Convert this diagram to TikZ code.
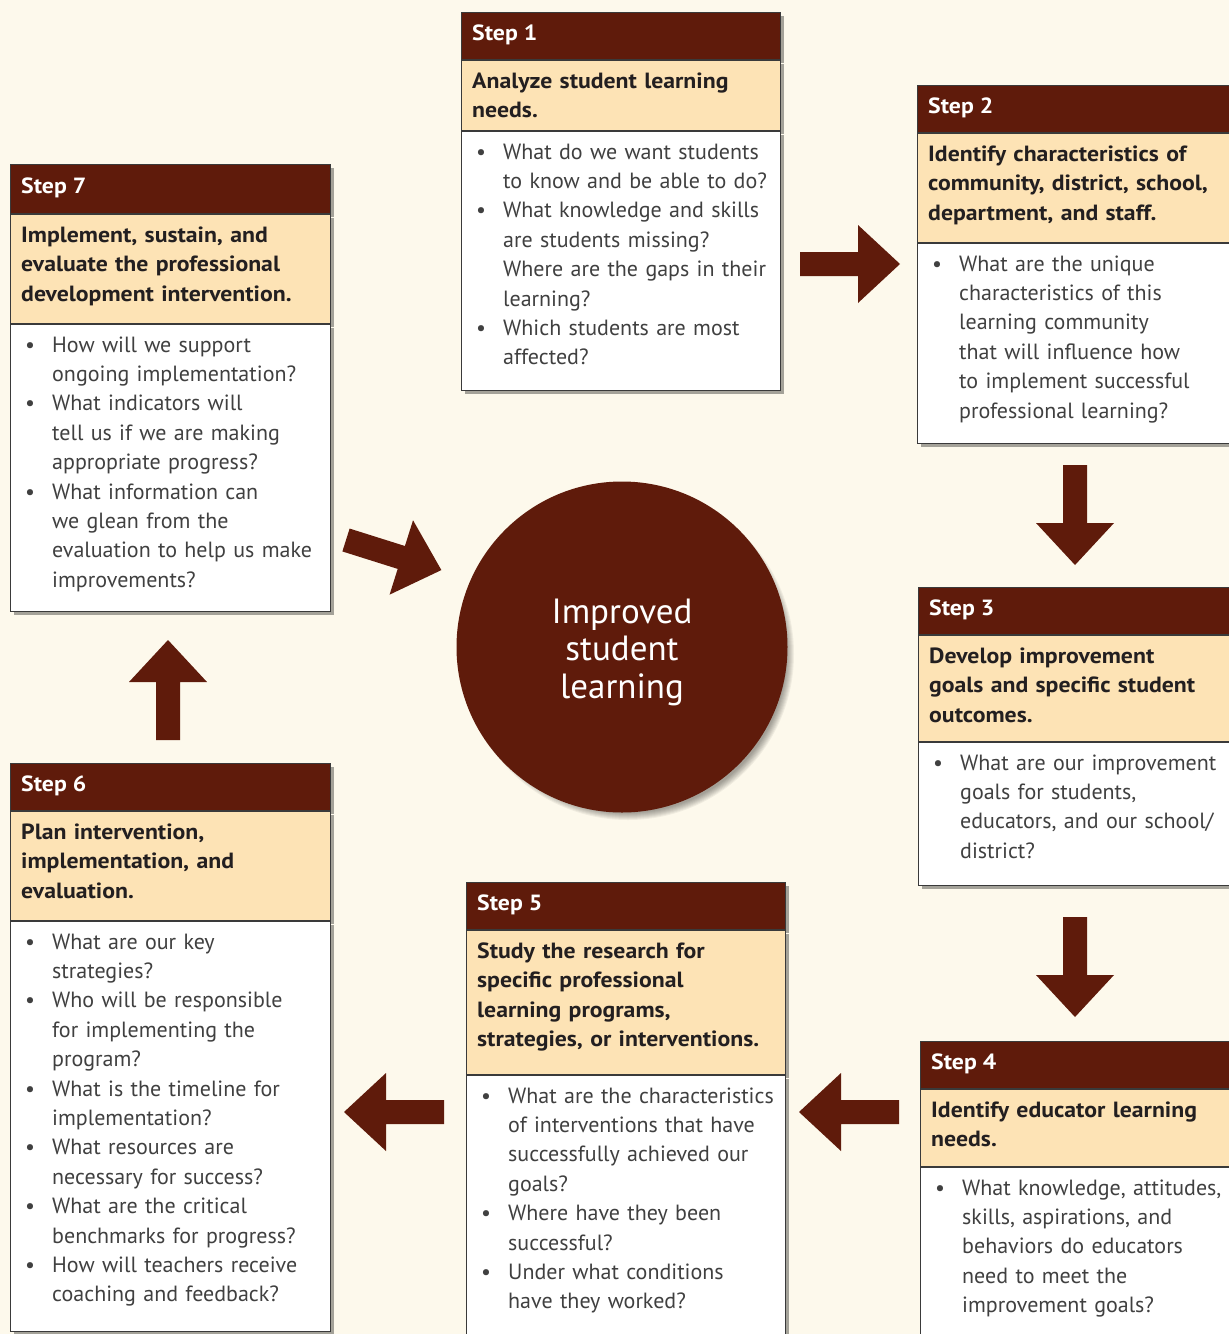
\documentclass[tikz,border=0pt]{standalone}
\usepackage{fontspec}
\setmainfont{PT Sans}[BoldFeatures={FakeStretch=1.08}]
\usetikzlibrary{calc,shadows}

\definecolor{paper}{HTML}{FDF9EC}
\definecolor{stepbrown}{HTML}{5F1B0B}
\definecolor{tanband}{HTML}{FDE3B5}
\definecolor{frame}{HTML}{3A3A3A}
\definecolor{ink}{HTML}{231F20}
\definecolor{greyink}{HTML}{404040}

\newcommand{\bul}{\makebox[27pt][l]{\textbullet}}	%bullet plus hanging indent
\newcommand{\cnt}{\hspace*{27pt}}					%continuation line of an item

\tikzset{
	band/.style={draw=frame, line width=1pt, anchor=north west, inner sep=0pt,
		drop shadow={shadow xshift=3pt, shadow yshift=-3pt, opacity=.35, fill=black}},
	hdrband/.style={band, fill=stepbrown, minimum height=47pt},
	titleband/.style={band, fill=tanband},
	bodyband/.style={band, fill=white},
	hdrtext/.style={anchor=base west, inner sep=0pt, text=white, font=\bfseries\fontsize{22}{29.5}\selectfont},
	titletext/.style={anchor=base west, inner sep=0pt, text=ink, text width=330pt, align=left,
		font=\bfseries\fontsize{22}{29.5}\selectfont},
	bodytext/.style={anchor=base west, inner sep=0pt, text=greyink, text width=330pt, align=left,
		font=\fontsize{22}{29.4}\selectfont},
	hub/.style={circle, fill=stepbrown, minimum size=331pt, inner sep=0pt},
	hubtext/.style={anchor=base, inner sep=0pt, text=white, text width=220pt, align=center,
		font=\fontsize{35}{37.5}\selectfont},
	fatarrow/.pic={\fill[stepbrown] (0,-12) -- (58,-12) -- (58,-39) -- (100,0) -- (58,39) -- (58,12) -- (0,12) -- cycle;}
}

\begin{document}
\begin{tikzpicture}[x=1pt,y=-1pt]
	\useasboundingbox (0,0) rectangle (1229,1334);
	\clip (0,0) rectangle (1229,1334);
	\fill[paper] (0,0) rectangle (1229,1334);		%page colour

	%----- Step 1 -----
	\node[hdrband, minimum width=319pt] (s1h) at (461,12) {};
	\node[titleband, minimum width=319pt, minimum height=70pt] (s1t) at (s1h.south west) {};
	\node[bodyband, minimum width=319pt, minimum height=259pt] (s1b) at (s1t.south west) {};
	\node[hdrtext] (s1hx) at ($(s1h.north west)+(11,28)$) {Step 1};
	\node[titletext] (s1tx) at ($(s1t.north west)+(11,28)$) {Analyze student learning\\needs.};
	\node[bodytext] (s1bx) at ($(s1b.north west)+(15,28)$) {%
		\bul What do we want students\\ \cnt to know and be able to do?\\
		\bul What knowledge and skills\\ \cnt are students missing?\\ \cnt Where are the gaps in their\\ \cnt learning?\\
		\bul Which students are most\\ \cnt affected?};

	%----- Step 2 -----
	\node[hdrband, minimum width=330pt] (s2h) at (917,85) {};
	\node[titleband, minimum width=330pt, minimum height=109pt] (s2t) at (s2h.south west) {};
	\node[bodyband, minimum width=330pt, minimum height=200pt] (s2b) at (s2t.south west) {};
	\node[hdrtext] (s2hx) at ($(s2h.north west)+(11,28)$) {Step 2};
	\node[titletext] (s2tx) at ($(s2t.north west)+(11,28)$) {Identify characteristics of\\community, district, school,\\department, and staff.};
	\node[bodytext] (s2bx) at ($(s2b.north west)+(15,28)$) {%
		\bul What are the unique\\ \cnt characteristics of this\\ \cnt learning community\\ \cnt that will influence how\\ \cnt to implement successful\\ \cnt professional learning?};

	%----- Step 3 -----
	\node[hdrband, minimum width=330pt] (s3h) at (918,587) {};
	\node[titleband, minimum width=330pt, minimum height=106pt] (s3t) at (s3h.south west) {};
	\node[bodyband, minimum width=330pt, minimum height=143pt] (s3b) at (s3t.south west) {};
	\node[hdrtext] (s3hx) at ($(s3h.north west)+(11,28)$) {Step 3};
	\node[titletext] (s3tx) at ($(s3t.north west)+(11,28)$) {Develop improvement\\goals and specific student\\outcomes.};
	\node[bodytext] (s3bx) at ($(s3b.north west)+(15,28)$) {%
		\bul What are our improvement\\ \cnt goals for students,\\ \cnt educators, and our school/\\ \cnt district?};

	%----- Step 4 -----
	\node[hdrband, minimum width=330pt] (s4h) at (920,1041) {};
	\node[titleband, minimum width=330pt, minimum height=77pt] (s4t) at (s4h.south west) {};
	\node[bodyband, minimum width=330pt, minimum height=167pt] (s4b) at (s4t.south west) {};
	\node[hdrtext] (s4hx) at ($(s4h.north west)+(11,28)$) {Step 4};
	\node[titletext] (s4tx) at ($(s4t.north west)+(11,28)$) {Identify educator learning\\needs.};
	\node[bodytext] (s4bx) at ($(s4b.north west)+(15,28)$) {%
		\bul What knowledge, attitudes,\\ \cnt skills, aspirations, and\\ \cnt behaviors do educators\\ \cnt need to meet the\\ \cnt improvement goals?};

	%----- Step 5 -----
	\node[hdrband, minimum width=319pt] (s5h) at (466,882) {};
	\node[titleband, minimum width=319pt, minimum height=144pt] (s5t) at (s5h.south west) {};
	\node[bodyband, minimum width=319pt, minimum height=275pt] (s5b) at (s5t.south west) {};
	\node[hdrtext] (s5hx) at ($(s5h.north west)+(11,28)$) {Step 5};
	\node[titletext] (s5tx) at ($(s5t.north west)+(11,28)$) {Study the research for\\specific professional\\learning programs,\\strategies, or interventions.};
	\node[bodytext] (s5bx) at ($(s5b.north west)+(15,28)$) {%
		\bul What are the characteristics\\ \cnt of interventions that have\\ \cnt successfully achieved our\\ \cnt goals?\\
		\bul Where have they been\\ \cnt successful?\\
		\bul Under what conditions\\ \cnt have they worked?};

	%----- Step 6 -----
	\node[hdrband, minimum width=320pt] (s6h) at (10,763) {};
	\node[titleband, minimum width=320pt, minimum height=109pt] (s6t) at (s6h.south west) {};
	\node[bodyband, minimum width=320pt, minimum height=410pt] (s6b) at (s6t.south west) {};
	\node[hdrtext] (s6hx) at ($(s6h.north west)+(11,28)$) {Step 6};
	\node[titletext] (s6tx) at ($(s6t.north west)+(11,28)$) {Plan intervention,\\implementation, and\\evaluation.};
	\node[bodytext] (s6bx) at ($(s6b.north west)+(15,28)$) {%
		\bul What are our key\\ \cnt strategies?\\
		\bul Who will be responsible\\ \cnt for implementing the\\ \cnt program?\\
		\bul What is the timeline for\\ \cnt implementation?\\
		\bul What resources are\\ \cnt necessary for success?\\
		\bul What are the critical\\ \cnt benchmarks for progress?\\
		\bul How will teachers receive\\ \cnt coaching and feedback?};

	%----- Step 7 -----
	\node[hdrband, minimum width=320pt, minimum height=49pt] (s7h) at (10,164) {};
	\node[titleband, minimum width=320pt, minimum height=109pt] (s7t) at (s7h.south west) {};
	\node[bodyband, minimum width=320pt, minimum height=287pt] (s7b) at (s7t.south west) {};
	\node[hdrtext] (s7hx) at ($(s7h.north west)+(11,29)$) {Step 7};
	\node[titletext] (s7tx) at ($(s7t.north west)+(11,28)$) {Implement, sustain, and\\evaluate the professional\\development intervention.};
	\node[bodytext] (s7bx) at ($(s7b.north west)+(15,28)$) {%
		\bul How will we support\\ \cnt ongoing implementation?\\
		\bul What indicators will\\ \cnt tell us if we are making\\ \cnt appropriate progress?\\
		\bul What information can\\ \cnt we glean from the\\ \cnt evaluation to help us make\\ \cnt improvements?};

	%----- centre circle, soft shadow first -----
	\coordinate (hubc) at (622,647);
	\foreach \k in {1,...,8}{
		\fill[black, opacity=.05] ($(hubc)+(6,7)$) circle (158pt+\k pt);
	}
	\node[hub] (hub) at (hubc) {};
	\node[hubtext] (hubtx) at ($(hub.center)+(0,-24)$) {Improved\\student\\learning};

	%----- block arrows (tail centre, direction) -----
	\pic at (800,264) {fatarrow};					%1 -> 2
	\pic[rotate=-90] at (1075,465) {fatarrow};		%2 -> 3
	\pic[rotate=-90] at (1075,917) {fatarrow};		%3 -> 4
	\pic[rotate=180] at (899,1112) {fatarrow};		%4 -> 5
	\pic[rotate=180] at (444,1112) {fatarrow};		%5 -> 6
	\pic[rotate=90] at (168,740) {fatarrow};		%6 -> 7
	\pic[rotate=-17.5] at (346,540) {fatarrow};		%7 -> centre
\end{tikzpicture}
\end{document}
